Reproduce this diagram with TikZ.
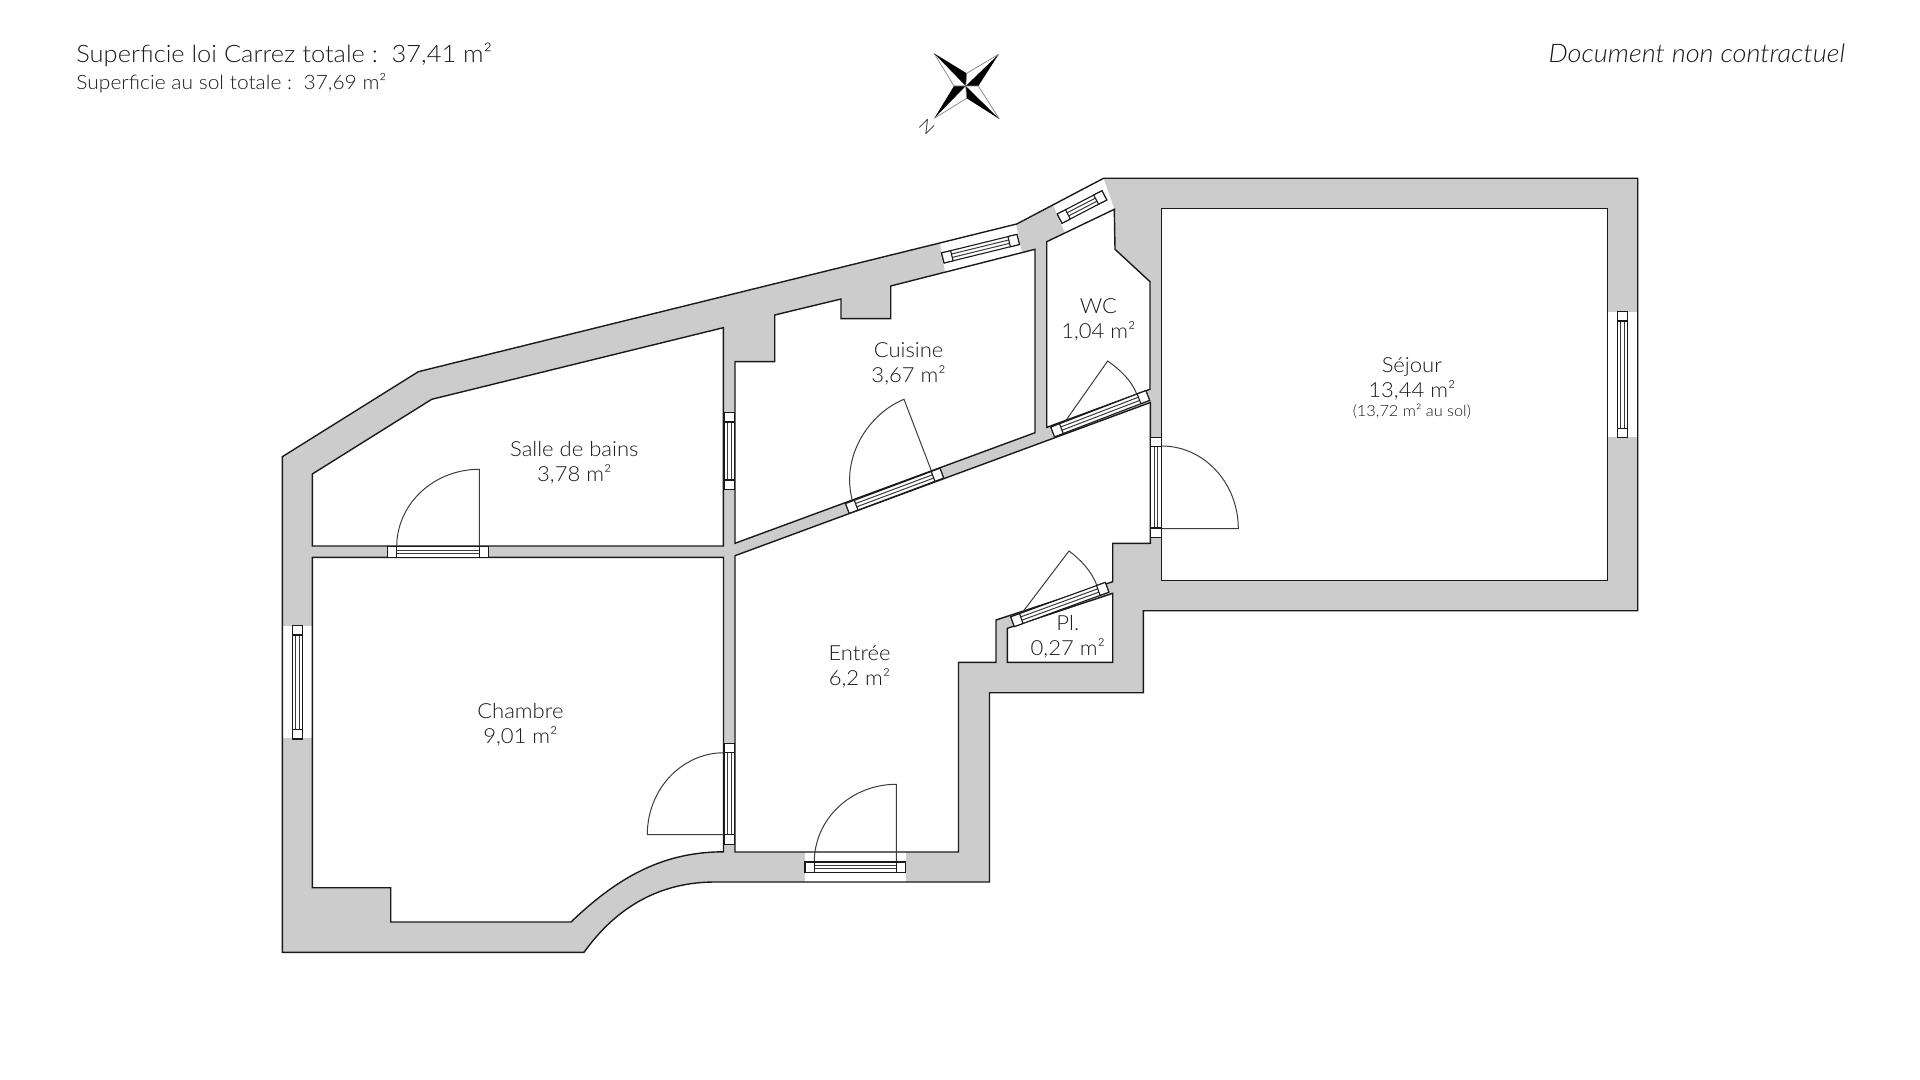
\documentclass[tikz,border=0pt]{standalone}
\usepackage{fontspec}
\setmainfont{Lato}[UprightFont=* Light,ItalicFont=* Light Italic,FakeStretch=1.06]
\usetikzlibrary{calc}
\definecolor{wallgray}{HTML}{CCCCCC}
\definecolor{ink}{HTML}{1A1A1A}
\tikzset{
  wallline/.style={draw=ink,line width=0.7pt,line join=miter},
  fineline/.style={draw=ink!85,line width=0.5pt},
  label/.style={font=\fontsize{10.4}{12}\selectfont,text=ink,inner sep=0pt,anchor=base},
  small/.style={font=\fontsize{7.7}{9}\selectfont,text=ink,inner sep=0pt,anchor=base}
}
\newcommand{\outerwall}{(282.3,456.7) -- (418.3,371.7) -- (1016.7,224) -- (1103.5,178.3) -- (1637.7,178.3) -- (1637.7,610.7) -- (1143.3,610.7) -- (1143.3,692.7) -- (989.5,692.7) -- (989.5,882) -- (715,882) .. controls (662,882) and (618,905) .. (584,952.3) -- (282.3,952.3) -- cycle}
\newcommand{\opening}[4]{%
  \begin{scope}[shift={(#1,#2)},rotate=#3]
    \fill[white] ({-#4/2},-5.2) rectangle ({#4/2},5.2);
    \draw[fineline] ({-#4/2},-1.73) -- ({#4/2},-1.73) ({-#4/2},1.73) -- ({#4/2},1.73);
    \draw[wallline,line width=0.55pt] ({-#4/2},-5.2) rectangle ({#4/2},5.2);
    \draw[wallline,line width=0.55pt,fill=white] ({-#4/2},-5.2) rectangle ({-#4/2+9.3},5.2);
    \draw[wallline,line width=0.55pt,fill=white] ({#4/2-9.3},-5.2) rectangle ({#4/2},5.2);
  \end{scope}}
\begin{document}
\begin{tikzpicture}[x=0.5pt,y=-0.5pt]
\useasboundingbox (0,0) rectangle (1920,1080);
% walls
\fill[wallgray] \outerwall;
% white wall sections at the windows
\fill[white] (1607,311.7) rectangle (1638,436.7);
\fill[white] (282,625.7) rectangle (313,738.3);
\fill[white] (805,851) rectangle (905.7,882);
\fill[white] (940,242.7) -- (945,272.2) -- (1022,252.6) -- (1016,224.2) -- cycle;
\fill[white] (1053.3,205) -- (1065,232.9) -- (1114.3,209.3) -- (1103.5,178.3) -- cycle;
\draw[wallline] \outerwall;
% rooms
\draw[wallline,fill=white] (312.3,474) -- (431.7,399.3) -- (723.3,327.7) -- (723.3,546) -- (312.3,546) -- cycle;
\draw[wallline,fill=white] (312.3,557.3) -- (723.5,557.3) -- (723.5,851.8) .. controls (665,852) and (620,875) .. (571,922) -- (390.7,922) -- (390.7,887.7) -- (312.3,887.7) -- cycle;
\draw[wallline,fill=white] (735,361.7) -- (774.7,361.7) -- (774.7,315) -- (841,299) -- (841,318.7) -- (890.7,318.7) -- (890.7,286) -- (1035,249.3) -- (1035,432.7) -- (735,543.3) -- cycle;
\draw[wallline,fill=white] (1046.7,241.7) -- (1114.3,209.3) -- (1115,249.3) -- (1150,281.7) -- (1150,389.3) -- (1046.7,427.4) -- cycle;
\draw[wallline,fill=white] (735,555.7) -- (1150.3,402.5) -- (1150.3,543.3) -- (1112.7,543.3) -- (1112.7,581.7) -- (996,620) -- (996,662.3) -- (958.5,662.3) -- (958.5,852) -- (735,852) -- cycle;
\draw[wallline,fill=white] (1007.3,628.3) -- (1112.7,593.3) -- (1112.7,662.3) -- (1007.3,662.3) -- cycle;
\draw[wallline,fill=white] (1161.7,208.7) rectangle (1607.7,580.7);
% door leaves and swings
\draw[fineline] (479.3,546.7) -- (479.3,469.3) .. controls (433.7,469.3) and (396.7,504) .. (396.7,546.7);
\draw[fineline] (931.7,471.7) -- (904,399.3) .. controls (868,414) and (840,458) .. (852.7,501.7);
\draw[fineline] (1065,421.7) -- (1107.7,361) .. controls (1119.7,369.5) and (1131.2,379.8) .. (1136.7,394);
\draw[fineline] (1021.7,613.3) -- (1069,551) .. controls (1080.7,559.8) and (1091.4,571) .. (1096.7,585);
\draw[fineline] (1161.7,528.7) -- (1238.3,528.7) .. controls (1238.3,483) and (1204,446) .. (1161.7,446);
\draw[fineline] (724.3,834.7) -- (647.3,834.7) .. controls (647.3,789) and (682,752.7) .. (724.3,752.7);
\draw[fineline] (896.3,862) -- (896.3,784.3) .. controls (851,784.3) and (814.3,819) .. (814.3,862);
% windows and door frames
\opening{1622.5}{374.7}{90}{126}
\opening{297.5}{682.3}{90}{113.3}
\opening{729.5}{451}{90}{76.6}
\opening{729.5}{793.7}{90}{100.7}
\opening{1156}{487.3}{90}{100}
\opening{855.3}{867.2}{0}{100.7}
\opening{438}{552}{0}{101.4}
\opening{894.6}{490.8}{20.5}{100.8}
\opening{1100.2}{413.7}{21}{101.8}
\opening{1059.8}{604.5}{20}{100.6}
\opening{980.5}{248.7}{13.8}{77.6}
\opening{1082}{207}{27.5}{50.4}
% compass
\fill[black] (934,53.3) -- (966.7,73.3) -- (965.7,86) -- cycle;
\fill[black] (998.7,54.3) -- (965.7,86) -- (978.3,86) -- cycle;
\fill[black] (999.3,119) -- (966.7,98.3) -- (965.7,86) -- cycle;
\fill[black] (934.3,118.3) -- (954,86) -- (965.7,86) -- cycle;
\draw[draw=gray,line width=0.35pt] (934,53.3) -- (954,86) -- (965.7,86);
\draw[draw=gray,line width=0.35pt] (998.7,54.3) -- (966.7,73.3) -- (965.7,86);
\draw[draw=gray,line width=0.35pt] (999.3,119) -- (978.3,86) -- (965.7,86);
\draw[draw=gray,line width=0.35pt] (934.3,118.3) -- (966.7,98.3) -- (965.7,86);
\node[small,anchor=center,rotate=135,font=\fontsize{8.5}{10}\selectfont] (north) at (926.7,127.3) {N};
% header
\node[inner sep=0pt,anchor=base west,text=ink,font=\fontsize{12}{14}\selectfont] (t1) at (76,62.5) {Superficie loi Carrez totale :\ \ 37,41 m²};
\node[inner sep=0pt,anchor=base west,text=ink,font=\fontsize{9.9}{11}\selectfont] (t2) at (76,89.5) {Superficie au sol totale :\ \ 37,69 m²};
\node[inner sep=0pt,anchor=base east,text=ink,font=\fontsize{12.8}{14}\itshape] (t3) at (1845.5,63) {Document non contractuel};
% room labels
\node[label] (r1a) at (574.3,456.5) {Salle de bains};
\node[label] (r1b) at (574.3,481.5) {3,78 m²};
\node[label] (r2a) at (908.6,357.5) {Cuisine};
\node[label] (r2b) at (908.6,382.5) {3,67 m²};
\node[label] (r3a) at (1098.4,314) {WC};
\node[label] (r3b) at (1098.4,339) {1,04 m²};
\node[label] (r4a) at (1411.9,372.5) {Séjour};
\node[label] (r4b) at (1411.9,397.5) {13,44 m²};
\node[small] (r4c) at (1411.9,416.5) {(13,72 m² au sol)};
\node[label] (r5a) at (1067.8,630.5) {Pl.};
\node[label] (r5b) at (1067.8,655.5) {0,27 m²};
\node[label] (r6a) at (859.6,660.5) {Entrée};
\node[label] (r6b) at (859.6,685.5) {6,2 m²};
\node[label] (r7a) at (520.4,718.5) {Chambre};
\node[label] (r7b) at (520.4,743.5) {9,01 m²};
\end{tikzpicture}
\end{document}
